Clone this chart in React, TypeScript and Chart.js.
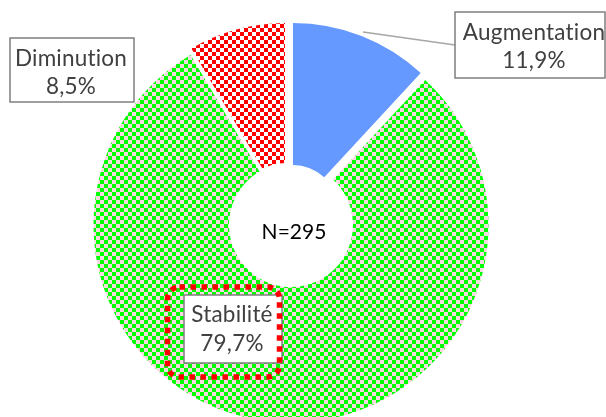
import React, { useEffect, useRef } from "react";
import { Chart, registerables } from "chart.js";

Chart.register(...registerables);

// ---- data ----
const categories: string[] = ["Augmentation", "Stabilité", "Diminution"];
const percentValues: number[] = [11.9, 79.7, 8.5];
const valueLabels: string[] = ["11,9%", "79,7%", "8,5%"];
const totalLabel = "N=295";

// ---- layout ----
const W = 606;
const H = 417;
const CH = 470;
const FONT = "Lato, 'Open Sans', sans-serif";
const TEXT = "#404040";

type Layer = { show: number; cx: number; cy: number; R: number; r: number };
const layers: Layer[] = [
  { show: 1, cx: 291, cy: 225, R: 197.5, r: 62 },
  { show: 0, cx: 293, cy: 211, R: 188, r: 46 },
  { show: 2, cx: 285, cy: 207, R: 184, r: 44 },
];

function checker(ctx: CanvasRenderingContext2D, a: string, b: string, s: number) {
  const cv = document.createElement("canvas");
  cv.width = s * 2;
  cv.height = s * 2;
  const g = cv.getContext("2d")!;
  g.fillStyle = a;
  g.fillRect(0, 0, s * 2, s * 2);
  g.fillStyle = b;
  g.fillRect(0, 0, s, s);
  g.fillRect(s, s, s, s);
  return ctx.createPattern(cv, "repeat")!;
}

function box(ctx: CanvasRenderingContext2D, x: number, y: number, w: number, h: number) {
  ctx.save();
  ctx.fillStyle = "#ffffff";
  ctx.fillRect(x, y, w, h);
  ctx.strokeStyle = "#7f7f7f";
  ctx.lineWidth = 1.5;
  ctx.strokeRect(x, y, w, h);
  ctx.restore();
}

function twoLines(ctx: CanvasRenderingContext2D, a: string, b: string, x: number, y1: number, y2: number) {
  ctx.save();
  ctx.fillStyle = TEXT;
  ctx.font = `22.5px ${FONT}`;
  (ctx as any).letterSpacing = "0.2px";
  ctx.textAlign = "center";
  ctx.textBaseline = "middle";
  ctx.fillText(a, x, y1);
  ctx.fillText(b, x, y2);
  ctx.restore();
}

const annotations = {
  id: "annotations",
  afterDraw(chart: any) {
    const ctx: CanvasRenderingContext2D = chart.ctx;
    // leader line for Augmentation
    ctx.save();
    ctx.strokeStyle = "#a6a6a6";
    ctx.lineWidth = 1.5;
    ctx.beginPath();
    ctx.moveTo(363, 32);
    ctx.lineTo(455, 45);
    ctx.stroke();
    ctx.restore();

    box(ctx, 455, 12, 150, 66);
    twoLines(ctx, categories[0], valueLabels[0], 534, 33, 61);

    box(ctx, 10, 38, 124, 64);
    twoLines(ctx, categories[2], valueLabels[2], 71, 59, 87);

    box(ctx, 184, 295, 98, 68);
    twoLines(ctx, categories[1], valueLabels[1], 232, 315, 344);

    // red dotted highlight
    ctx.save();
    ctx.strokeStyle = "#ff0000";
    ctx.lineWidth = 5.5;
    ctx.setLineDash([5.5, 5.5]);
    ctx.beginPath();
    (ctx as any).roundRect(167.5, 287, 112, 90, 12);
    ctx.stroke();
    ctx.restore();

    // center total
    ctx.save();
    ctx.fillStyle = "#000000";
    ctx.font = `21px ${FONT}`;
    ctx.textAlign = "center";
    ctx.textBaseline = "middle";
    ctx.fillText(totalLabel, 294, 232);
    ctx.restore();
  },
};

function DonutLayer({ layer, top }: { layer: Layer; top: boolean }) {
  const ref = useRef<HTMLCanvasElement>(null);
  useEffect(() => {
    const canvas = ref.current!;
    const ctx = canvas.getContext("2d")!;
    const colors = [
      "#6699ff",
      checker(ctx, "#f9d8e2", "#00ff00", 4),
      checker(ctx, "#ffffff", "#ff0000", 4),
    ];
    const { cx, cy, R, r, show } = layer;
    const chart = new Chart(canvas, {
      type: "doughnut",
      data: {
        labels: categories,
        datasets: [
          {
            data: percentValues,
            backgroundColor: colors.map((c, i) => (i === show ? c : "rgba(0,0,0,0)")),
            borderWidth: 0,
          },
        ],
      },
      options: {
        responsive: false,
        animation: false,
        cutout: r,
        layout: {
          padding: { left: cx - R, top: cy - R, right: W - (cx + R), bottom: CH - (cy + R) },
        },
        plugins: { legend: { display: false }, tooltip: { enabled: false } },
        events: [],
      },
      plugins: top ? [annotations] : [],
    });
    return () => chart.destroy();
  }, []);
  return (
    <canvas
      ref={ref}
      width={W}
      height={CH}
      style={{ position: "absolute", left: 0, top: 0, width: W, height: CH }}
    />
  );
}

export default function App() {
  return (
    <div
      style={{
        position: "fixed",
        left: 0,
        top: 0,
        width: W,
        height: H,
        overflow: "hidden",
        background: "#ffffff",
      }}
    >
      {layers.map((l, i) => (
        <DonutLayer key={i} layer={l} top={i === layers.length - 1} />
      ))}
    </div>
  );
}
